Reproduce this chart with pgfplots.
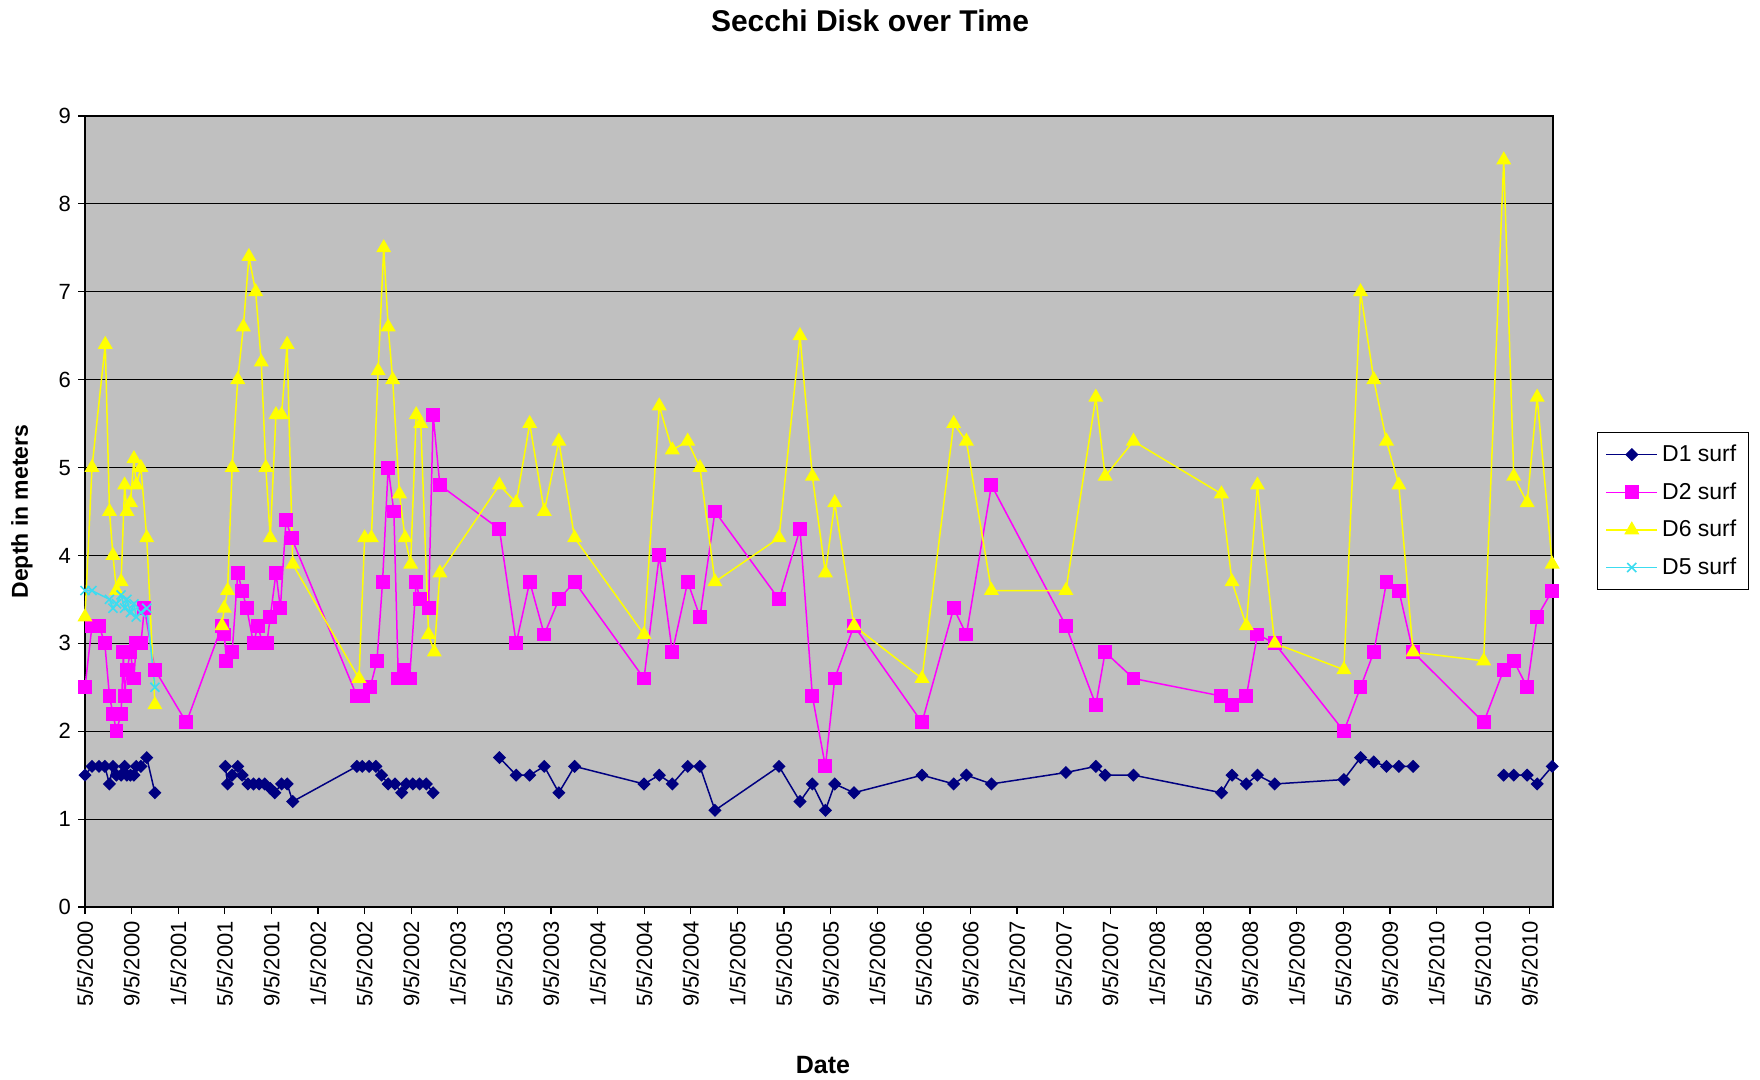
\documentclass[border=0pt]{standalone}
\usepackage{fontspec}
\setmainfont{Liberation Sans}
\usepackage{pgfplots}
\pgfplotsset{compat=1.18}
\definecolor{plotgray}{RGB}{192,192,192}
\definecolor{dnavy}{RGB}{0,0,128}
\definecolor{dmag}{RGB}{255,0,255}
\definecolor{dyel}{RGB}{255,255,0}
\definecolor{dcyan}{RGB}{60,220,240}

\begin{document}
\begin{tikzpicture}
\useasboundingbox (-42.5pt,-86.5pt) rectangle (837.5pt,453.5pt);
\begin{axis}[
    at={(0pt,0pt)}, anchor=south west,
    scale only axis,
    width=734pt, height=395.5pt,
    xmin=0, xmax=126, ymin=0, ymax=9,
    clip=false,
    unbounded coords=jump,
    axis background/.style={fill=plotgray},
    axis line style={black, line width=0.6pt},
    ymajorgrids,
    major grid style={black, line width=0.6pt},
    xtick={0,4,...,124},
    xticklabels={5/5/2000,9/5/2000,1/5/2001,5/5/2001,9/5/2001,1/5/2002,5/5/2002,9/5/2002,1/5/2003,5/5/2003,9/5/2003,1/5/2004,5/5/2004,9/5/2004,1/5/2005,5/5/2005,9/5/2005,1/5/2006,5/5/2006,9/5/2006,1/5/2007,5/5/2007,9/5/2007,1/5/2008,5/5/2008,9/5/2008,1/5/2009,5/5/2009,9/5/2009,1/5/2010,5/5/2010,9/5/2010},
    ytick={0,1,...,9},
    xtick pos=bottom, ytick pos=left,
    tick align=outside,
    major tick length=3.5pt,
    tick style={black, line width=0.6pt},
    xticklabel style={rotate=90, anchor=east, font=\fontsize{11}{13}\selectfont},
    yticklabel style={font=\fontsize{11}{13}\selectfont},
    /pgf/number format/assume math mode=true,
    legend cell align=left,
    legend style={at={(1.03,0.6)}, anchor=north west, draw=black, fill=white,
        font=\fontsize{11.5}{13}\selectfont, row sep=5pt, inner sep=4pt},
    legend image code/.code={%
        \draw[mark repeat=2,mark phase=2,#1] plot coordinates {(0cm,0cm) (0.45cm,0cm) (0.9cm,0cm)};},
    every axis plot/.append style={line width=0.75pt},
]

% D1 surf
\addplot[dnavy, mark=square*, mark size=1.95pt, mark options={rotate=45, fill=dnavy}]
    coordinates {
    (0,1.5) (0.6,1.6) (1.2,1.6) (1.7,1.6) (2.1,1.4) (2.4,1.6) (2.7,1.5) (3.1,1.5)
    (3.4,1.6) (3.6,1.5) (3.9,1.5) (4.2,1.5) (4.4,1.6) (4.8,1.6) (5.3,1.7) (6.0,1.3)
    (8.7,nan)
    (12.05,1.6) (12.24,1.4) (12.63,1.5) (13.11,1.6) (13.49,1.5) (13.98,1.4) (14.46,1.4)
    (14.94,1.4) (15.42,1.4) (15.9,1.35) (16.29,1.3) (16.87,1.4) (17.35,1.4) (17.83,1.2)
    (23.33,1.6) (23.8,1.6) (24.39,1.6) (24.96,1.6) (25.45,1.5) (26.02,1.4) (26.6,1.4)
    (27.18,1.3) (27.57,1.4) (28.14,1.4) (28.72,1.4) (29.3,1.4) (29.88,1.3)
    (30.46,nan)
    (35.57,1.7) (37.01,1.5) (38.17,1.5) (39.42,1.6) (40.67,1.3) (42.02,1.6)
    (47.98,1.4) (49.29,1.5) (50.41,1.4) (51.73,1.6) (52.78,1.6) (54.07,1.1)
    (59.57,1.6) (61.37,1.2) (62.43,1.4) (63.55,1.1) (64.35,1.4) (66.0,1.3)
    (71.84,1.5) (74.56,1.4) (75.65,1.5) (77.8,1.4)
    (84.19,1.53) (86.76,1.6) (87.56,1.5) (89.99,1.5)
    (97.54,1.3) (98.45,1.5) (99.68,1.4) (100.63,1.5) (102.11,1.4)
    (108.05,1.45) (109.48,1.7) (110.62,1.65) (111.71,1.6) (112.77,1.6) (113.99,1.6)
    (120.05,nan)
    (121.77,1.5) (122.63,1.5) (123.78,1.5) (124.64,1.4) (125.93,1.6)
    };
\addlegendentry{D1 surf}

% D2 surf
\addplot[dmag, mark=square*, mark size=3.1pt, mark options={fill=dmag}]
    coordinates {
    (0,2.5) (0.6,3.2) (1.2,3.2) (1.7,3.0) (2.1,2.4) (2.4,2.2) (2.7,2.0) (3.1,2.2)
    (3.3,2.9) (3.4,2.4) (3.6,2.7) (3.9,2.9) (4.2,2.6) (4.4,3.0) (4.8,3.0) (5.1,3.4)
    (6.0,2.7) (8.7,2.1)
    (11.76,3.2) (11.95,3.1) (12.14,2.8) (12.63,2.9) (13.11,3.8) (13.49,3.6) (13.88,3.4)
    (14.46,3.0) (14.84,3.2) (15.23,3.0) (15.61,3.0) (15.9,3.3) (16.39,3.8) (16.77,3.4)
    (17.25,4.4) (17.73,4.2)
    (23.33,2.4) (23.9,2.4) (24.48,2.5) (25.06,2.8) (25.54,3.7) (26.02,5.0) (26.51,4.5)
    (26.89,2.6) (27.37,2.7) (27.86,2.6) (28.43,3.7) (28.72,3.5) (29.49,3.4) (29.88,5.6)
    (30.46,4.8)
    (35.57,4.3) (37.01,3.0) (38.17,3.7) (39.42,3.1) (40.67,3.5) (42.02,3.7)
    (47.98,2.6) (49.29,4.0) (50.41,2.9) (51.73,3.7) (52.78,3.3) (54.07,4.5)
    (59.57,3.5) (61.37,4.3) (62.43,2.4) (63.55,1.6) (64.35,2.6) (66.0,3.2)
    (71.84,2.1) (74.56,3.4) (75.65,3.1) (77.8,4.8)
    (84.19,3.2) (86.76,2.3) (87.56,2.9) (89.99,2.6)
    (97.54,2.4) (98.45,2.3) (99.68,2.4) (100.63,3.1) (102.11,3.0)
    (108.05,2.0) (109.48,2.5) (110.62,2.9) (111.71,3.7) (112.77,3.6) (113.99,2.9)
    (120.05,2.1) (121.77,2.7) (122.63,2.8) (123.78,2.5) (124.64,3.3) (125.93,3.6)
    };
\addlegendentry{D2 surf}

% D6 surf
\addplot[dyel, mark=triangle*, mark size=3.6pt, mark options={fill=dyel}]
    coordinates {
    (0,3.3) (0.6,5.0) (1.74,6.4) (2.1,4.5) (2.4,4.0) (2.7,3.6) (3.1,3.7) (3.4,4.8)
    (3.6,4.5) (3.9,4.6) (4.2,5.1) (4.4,4.8) (4.8,5.0) (5.3,4.2) (6.0,2.3)
    (8.7,nan)
    (11.76,3.2) (11.95,3.4) (12.24,3.6) (12.63,5.0) (13.11,6.0) (13.59,6.6) (14.07,7.4)
    (14.65,7.0) (15.13,6.2) (15.52,5.0) (15.9,4.2) (16.39,5.6) (16.87,5.6) (17.35,6.4)
    (17.83,3.9)
    (23.52,2.6) (24.0,4.2) (24.58,4.2) (25.16,6.1) (25.64,7.5) (26.02,6.6) (26.41,6.0)
    (26.99,4.7) (27.47,4.2) (27.95,3.9) (28.43,5.6) (28.82,5.5) (29.49,3.1) (29.98,2.9)
    (30.46,3.8)
    (35.57,4.8) (37.01,4.6) (38.17,5.5) (39.42,4.5) (40.67,5.3) (42.02,4.2)
    (47.98,3.1) (49.29,5.7) (50.41,5.2) (51.73,5.3) (52.78,5.0) (54.07,3.7)
    (59.57,4.2) (61.37,6.5) (62.43,4.9) (63.55,3.8) (64.35,4.6) (66.0,3.2)
    (71.84,2.6) (74.56,5.5) (75.65,5.3) (77.8,3.6)
    (84.19,3.6) (86.76,5.8) (87.56,4.9) (89.99,5.3)
    (97.54,4.7) (98.45,3.7) (99.68,3.2) (100.63,4.8) (102.11,3.0)
    (108.05,2.7) (109.48,7.0) (110.62,6.0) (111.71,5.3) (112.77,4.8) (113.99,2.9)
    (120.05,2.8) (121.77,8.5) (122.63,4.9) (123.78,4.6) (124.64,5.8) (125.93,3.9)
    };
\addlegendentry{D6 surf}

% D5 surf
\addplot[dcyan, mark=x, mark size=3.2pt, mark options={line width=0.8pt}]
    coordinates {
    (0,3.6) (0.6,3.6) (2.1,3.5) (2.4,3.4) (2.7,3.45) (3.1,3.55) (3.4,3.4) (3.6,3.5)
    (3.9,3.35) (4.2,3.45) (4.4,3.3) (4.8,3.35) (5.3,3.4) (6.0,2.5)
    };
\addlegendentry{D5 surf}

\end{axis}

\node[font=\bfseries\fontsize{15}{18}\selectfont] at (392.5pt,443pt) {Secchi Disk over Time};
\node[font=\bfseries\fontsize{12.5}{15}\selectfont] at (369pt,-79pt) {Date};
\node[font=\bfseries\fontsize{11.5}{14}\selectfont, rotate=90] at (-31.5pt,197.75pt) {Depth in meters};
\end{tikzpicture}
\end{document}
